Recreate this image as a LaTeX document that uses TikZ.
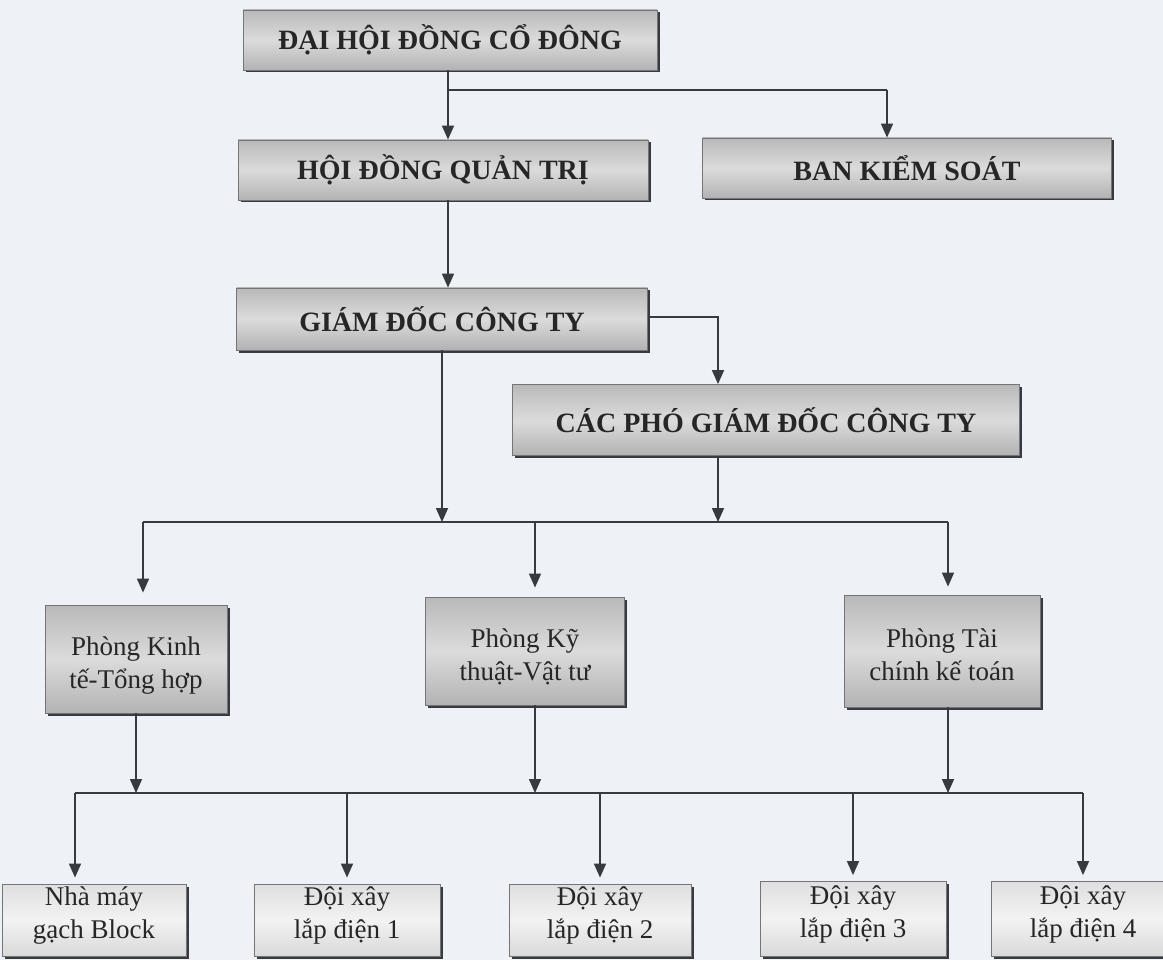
\documentclass[tikz,border=0pt]{standalone}
\usepackage{fontspec}
\setmainfont{Liberation Serif}
\usetikzlibrary{arrows.meta,shadows}
\definecolor{paper}{RGB}{238,241,246}
\definecolor{ink}{RGB}{55,58,62}

\begin{document}
\begin{tikzpicture}
            [every node/.style={inner sep=0pt},
             head/.style={rectangle, draw=ink!70, line width=0.8pt, text=black!85,
                 top color=gray!55, bottom color=gray!60, middle color=gray!28,
                 drop shadow={shadow xshift=2.5pt, shadow yshift=-2.5pt, fill=ink, opacity=1},
                 font=\fontsize{28pt}{32pt}\selectfont\bfseries},
             dept/.style={head, align=center, text height=58pt, text depth=0pt,
                 font=\fontsize{27pt}{33pt}\selectfont},
             unit/.style={dept, text height=50pt, text depth=14pt,
                 top color=gray!25, bottom color=gray!30, middle color=gray!10},
             conn/.style={line width=1.6pt, draw=ink},
             arr/.style={conn, -{Triangle[width=12pt,length=14pt]}}]
                \fill [paper] (0pt, 0pt) rectangle (1163pt, -960pt);
                \useasboundingbox (0pt, 0pt) rectangle (1163pt, -960pt);
                \node (1) [head, minimum width=414pt, minimum height=60pt] at (450pt, -40pt) {ĐẠI HỘI ĐỒNG CỔ ĐÔNG};
                \node (2) [head, minimum width=410pt, minimum height=60pt] at (443pt, -170pt) {HỘI ĐỒNG QUẢN TRỊ};
                \node (3) [head, minimum width=409pt, minimum height=60pt] at (907pt, -168pt) {BAN KIỂM SOÁT};
                \node (4) [head, minimum width=411pt, minimum height=62pt] at (442pt, -319pt) {GIÁM ĐỐC CÔNG TY};
                \node (5) [head, minimum width=507pt, minimum height=71pt] at (766pt, -420pt) {CÁC PHÓ GIÁM ĐỐC CÔNG TY};
                \node (6) [dept, minimum width=182pt, minimum height=108pt] at (136pt, -659pt) {Phòng Kinh\\tế-Tổng hợp};
                \node (7) [dept, minimum width=199pt, minimum height=108pt] at (525pt, -651pt) {Phòng Kỹ\\thuật-Vật tư};
                \node (8) [dept, minimum width=196pt, minimum height=112pt] at (942pt, -651pt) {Phòng Tài\\chính kế toán};
                \node (9) [unit, minimum width=184pt, minimum height=72pt] at (94pt, -920pt) {Nhà máy\\gạch Block};
                \node (10) [unit, minimum width=186pt, minimum height=72pt] at (347pt, -920pt) {Đội xây\\lắp điện 1};
                \node (11) [unit, minimum width=182pt, minimum height=72pt] at (600pt, -920pt) {Đội xây\\lắp điện 2};
                \node (12) [unit, minimum width=186pt, minimum height=75pt] at (853pt, -919pt) {Đội xây\\lắp điện 3};
                \node (13) [unit, minimum width=184pt, minimum height=75pt] at (1083pt, -919pt) {Đội xây\\lắp điện 4};
                \coordinate (b1) at (448pt, -90pt);
                \coordinate (b2) at (887pt, -90pt);
                \coordinate (c1) at (718pt, -317pt);
                \coordinate (u1) at (143pt, -522pt);
                \coordinate (u2) at (535pt, -522pt);
                \coordinate (u3) at (948pt, -522pt);
                \coordinate (l1) at (75pt, -793pt);
                \coordinate (l2) at (347pt, -793pt);
                \coordinate (l3) at (600pt, -793pt);
                \coordinate (l4) at (853pt, -793pt);
                \coordinate (l5) at (1083pt, -793pt);
                \draw [arr] (b1 |- 1.south) -- (b1 |- 2.north);
                \draw [conn] (b1) -- (b2);
                \draw [arr] (b2) -- (b2 |- 3.north);
                \draw [arr] (b1 |- 2.south) -- (b1 |- 4.north);
                \draw [arr] (4.east |- c1) -- (c1) -- (c1 |- 5.north);
                \draw [arr] (4.south) -- (4.south |- u1);
                \draw [arr] (c1 |- 5.south) -- (c1 |- u1);
                \draw [conn] (u1) -- (u3);
                \draw [arr, shorten >=12pt] (u1) -- (u1 |- 6.north);
                \draw [arr, shorten >=9pt] (u2) -- (u2 |- 7.north);
                \draw [arr, shorten >=8pt] (u3) -- (u3 |- 8.north);
                \draw [arr] (6.south) -- (6.south |- l1);
                \draw [arr] (u2 |- 7.south) -- (u2 |- l1);
                \draw [arr] (u3 |- 8.south) -- (u3 |- l1);
                \draw [conn] (l1) -- (l5);
                \draw [arr, shorten >=6pt] (l1) -- (l1 |- 9.north);
                \draw [arr, shorten >=6pt] (l2) -- (l2 |- 10.north);
                \draw [arr, shorten >=6pt] (l3) -- (l3 |- 11.north);
                \draw [arr, shorten >=6pt] (l4) -- (l4 |- 12.north);
                \draw [arr, shorten >=6pt] (l5) -- (l5 |- 13.north);
            \end{tikzpicture}
\end{document}
